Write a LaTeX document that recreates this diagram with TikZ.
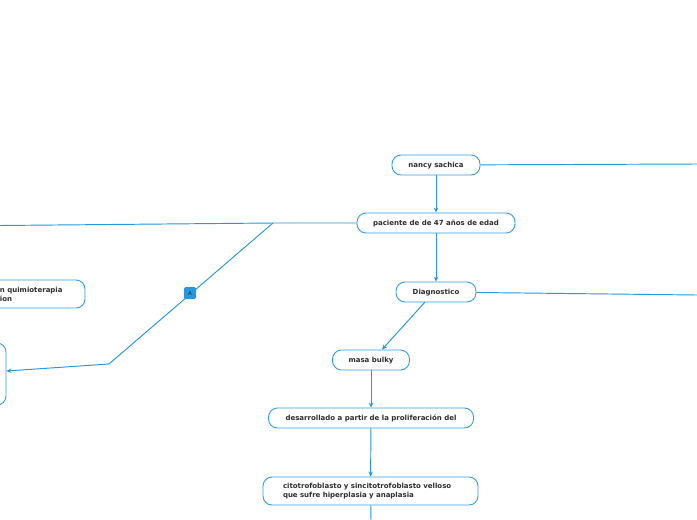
\documentclass[tikz,border=0pt]{standalone}
\usepackage{fontspec}
\setmainfont{DejaVu Sans}
\usetikzlibrary{arrows.meta}
\definecolor{lnblue}{RGB}{38,152,224}
\definecolor{bxblue}{RGB}{52,160,232}
\definecolor{txgray}{RGB}{45,45,45}
\tikzset{
  topic/.style={draw=bxblue, line width=0.9pt, fill=white, rounded corners=9pt,
    minimum height=20pt, inner ysep=2pt, text=txgray,
    font=\fontsize{7}{9}\selectfont\bfseries},
  oneline/.style={text height=4.2pt, text depth=0pt},
  conn/.style={draw=lnblue, line width=0.95pt},
  arr/.style={conn, -{Stealth[length=5pt,width=4.5pt]}},
  tag/.style={fill=lnblue, rounded corners=1.5pt, minimum size=12pt, inner sep=0pt,
    text=txgray, font=\fontsize{5.5}{6}\selectfont}
}
\begin{document}
\begin{tikzpicture}[x=1pt,y=-1pt]
\useasboundingbox (0,0) rectangle (697,520);
\clip (0,0) rectangle (697,520);
\fill[white] (0,0) rectangle (697,520);

% nodes
\node[topic, oneline, minimum width=88pt] (nancy) at (436,165) {nancy sachica};
\node[topic, oneline, minimum width=158pt] (pac) at (436,223) {paciente de de 47 años de edad};
\node[topic, oneline, minimum width=80pt] (diag) at (436,292) {Diagnostico};
\node[topic, oneline, minimum width=77pt] (masa) at (371,360) {masa bulky};
\node[topic, oneline, minimum width=205pt] (des) at (371,418) {desarrollado a partir de la proliferación del};
\node[topic, minimum height=28pt, text width=175pt, inner xsep=20pt, align=left] (cito) at (370.5,491)
  {citotrofoblasto y sincitotrofoblasto velloso\\que sufre hiperplasia y anaplasia};
\node[topic, minimum height=28pt, text width=115pt, inner xsep=5pt, align=left] (quim) at (22.5,294)
  {\hspace*{35pt}n quimioterapia\\\hspace*{35pt}ion};
\node[topic, minimum height=62pt, minimum width=106pt] (lb) at (-47,374) {};

% coordinates for free ends
\coordinate (j1) at (273,223);
\coordinate (lend) at (0,225.5);
\coordinate (j2) at (109,364);
\coordinate (rend1) at (697,164);
\coordinate (rend2) at (697,295);
\coordinate (bend) at (371,520);
\coordinate (ds) at (425,302);

% connectors
\draw[arr] (nancy) -- (pac);
\draw[arr] (pac) -- (diag);
\draw[arr] (ds) -- ([xshift=11pt]masa.north);
\draw[arr] (masa) -- (des);
\draw[arr] (des) -- (cito);
\draw[conn] (cito) -- (bend);
\draw[conn] (nancy) -- (rend1);
\draw[conn] (diag) -- (rend2);
\draw[conn] (pac) -- (j1) -- (lend);
\draw[arr] (j1) -- (j2) -- ([yshift=3pt]lb.east);
\node[tag] (A) at (190,293) {A};
\end{tikzpicture}
\end{document}
